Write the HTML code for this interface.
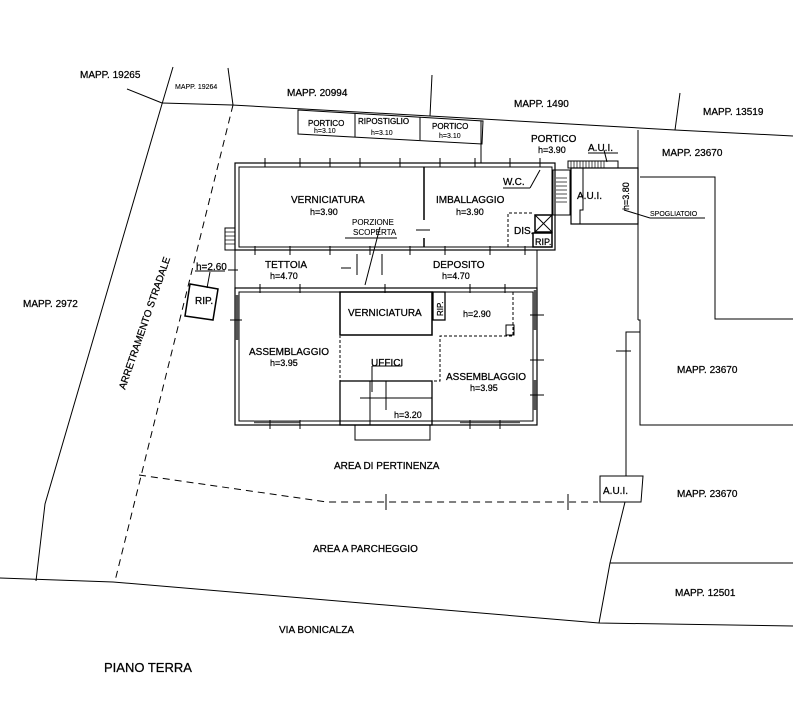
<!DOCTYPE html>
<html><head><meta charset="utf-8"><style>
html,body{margin:0;padding:0;background:#fff;}
svg{display:block;}
text{font-family:"Liberation Sans",Arial,sans-serif;fill:#000;stroke:#000;stroke-width:0.25;}
.t{font-size:10px;}
.s{font-size:7px;stroke-width:0.1;}
</style></head><body>
<svg width="793" height="705" viewBox="0 0 793 705" xmlns="http://www.w3.org/2000/svg">
<g fill="none" stroke="#000" stroke-width="1">
<polyline points="173,67 162,104 45,504 36,581"/>
<line x1="127" y1="89" x2="162" y2="103"/>
<polyline points="162,103 232,105 430,116 675,130 793,136"/>
<line x1="228" y1="68" x2="233" y2="105"/>
<line x1="432" y1="75" x2="430" y2="116"/>
<line x1="680" y1="93" x2="675" y2="130"/>
<line x1="233" y1="105" x2="115" y2="581" stroke-dasharray="7,5"/>
<polyline points="0,578 113,582 599,623 793,626"/>
<polyline points="139,475 327,502 598,502" stroke-dasharray="7,5"/>
<line x1="386" y1="494" x2="386" y2="510"/>
<line x1="568" y1="494" x2="568" y2="510"/>
<polygon points="600,476 643,476 641,502 600,502"/>
<polyline points="625,502 610,563 599,623"/>
<line x1="610" y1="563" x2="793" y2="563"/>
<line x1="638" y1="130" x2="638" y2="320"/>
<polyline points="638,320 640,320 640,425 793,425"/>
<polyline points="640,177 715,177 715,319 793,319"/>
<polyline points="640,332 626,332 626,476"/>
<line x1="616" y1="351" x2="631" y2="351"/>
<polygon points="298,110 483,121 482,144 298,134"/>
<line x1="355" y1="113" x2="355" y2="137"/>
<line x1="420" y1="117" x2="420" y2="140"/>
<line x1="481" y1="121" x2="481" y2="163"/>
<polygon points="190,284 218,289 213,320 185,316" stroke-width="1.5"/>
<line x1="195" y1="271" x2="225" y2="271"/>
<line x1="210" y1="272" x2="207" y2="288"/>
<rect x="235" y="163" width="320" height="87" stroke-width="1.2"/>
<rect x="239" y="167" width="313" height="80"/>
<line x1="424" y1="167" x2="424" y2="220" stroke-width="1.5"/>
<line x1="424" y1="238" x2="424" y2="247" stroke-width="1.5"/>
<line x1="416" y1="230" x2="430" y2="230"/>
<polyline points="508,247 508,213 533,213" stroke-dasharray="3,2"/>
<rect x="535" y="215" width="17" height="17" stroke-width="1.5"/>
<line x1="535" y1="215" x2="552" y2="232"/><line x1="552" y1="215" x2="535" y2="232"/>
<rect x="533" y="233" width="19" height="14" stroke-width="1.5"/>
<rect x="553" y="170" width="17" height="45"/>
<g stroke-width="0.7"><line x1="556" y1="178" x2="567" y2="178"/><line x1="556" y1="182" x2="567" y2="182"/><line x1="556" y1="186" x2="567" y2="186"/><line x1="556" y1="190" x2="567" y2="190"/><line x1="556" y1="194" x2="567" y2="194"/><line x1="556" y1="198" x2="567" y2="198"/><line x1="556" y1="202" x2="567" y2="202"/></g>
<rect x="571" y="168" width="67" height="56" stroke-width="1.2"/>
<rect x="568" y="161" width="50" height="7"/>
<g stroke-width="0.7"><line x1="571" y1="161" x2="571" y2="168"/><line x1="574" y1="161" x2="574" y2="168"/><line x1="577" y1="161" x2="577" y2="168"/><line x1="580" y1="161" x2="580" y2="168"/><line x1="583" y1="161" x2="583" y2="168"/><line x1="586" y1="161" x2="586" y2="168"/><line x1="589" y1="161" x2="589" y2="168"/><line x1="592" y1="161" x2="592" y2="168"/><line x1="595" y1="161" x2="595" y2="168"/><line x1="598" y1="161" x2="598" y2="168"/><line x1="601" y1="161" x2="601" y2="168"/><line x1="604" y1="161" x2="604" y2="168"/></g>
<polyline points="583,168 583,210 580,210 580,224"/>
<line x1="604" y1="150" x2="607" y2="162"/>
<line x1="624" y1="210" x2="650" y2="218"/>
<line x1="650" y1="218" x2="705" y2="218"/>
<line x1="540" y1="170" x2="530" y2="188"/>
<line x1="503" y1="188" x2="530" y2="188"/>
<rect x="225" y="228" width="10" height="22"/>
<g stroke-width="0.7"><line x1="225" y1="232" x2="235" y2="232"/><line x1="225" y1="236" x2="235" y2="236"/><line x1="225" y1="240" x2="235" y2="240"/><line x1="225" y1="244" x2="235" y2="244"/></g>
<line x1="235" y1="250" x2="235" y2="288"/>
<line x1="537" y1="250" x2="537" y2="288"/>
<line x1="357" y1="254" x2="357" y2="275"/>
<line x1="382" y1="254" x2="382" y2="275"/>
<line x1="341" y1="268" x2="351" y2="268"/>
<line x1="380" y1="227" x2="365" y2="285"/>
<line x1="345" y1="238" x2="397" y2="238"/>
<rect x="235" y="288" width="302" height="137" stroke-width="1.2"/>
<rect x="239" y="292" width="294" height="129"/>
<rect x="340" y="292" width="92" height="43" stroke-width="1.5"/>
<rect x="433" y="292" width="12" height="28" stroke-width="1.3"/>
<polyline points="513,292 513,336 440,336 440,381 340,381 340,336" stroke-dasharray="3,2"/>
<rect x="340" y="381" width="92" height="44" stroke-width="1.3"/>
<line x1="360" y1="398" x2="432" y2="398"/>
<line x1="370" y1="381" x2="370" y2="425"/>
<line x1="386" y1="381" x2="386" y2="410"/>
<rect x="355" y="425" width="75" height="15"/>
<line x1="372" y1="366" x2="372" y2="392"/>
<line x1="372" y1="366" x2="402" y2="366"/>
<rect x="506" y="325" width="8" height="10"/>
<line x1="254" y1="422" x2="300" y2="422" stroke-width="2.5" stroke="#555"/>
<line x1="460" y1="422" x2="520" y2="422" stroke-width="2.5" stroke="#555"/>
<line x1="237" y1="295" x2="237" y2="340" stroke-width="2.5" stroke="#555"/>
<line x1="535" y1="290" x2="535" y2="330" stroke-width="2.5" stroke="#555"/>
<line x1="535" y1="380" x2="535" y2="410" stroke-width="2.5" stroke="#555"/>
<g stroke-width="1">
<path d="M265 158v9M258 163h14M300 158v9M293 163h14M330 158v9M323 163h14M360 158v9M353 163h14M400 158v9M393 163h14M440 158v9M433 163h14M475 158v9M468 163h14M510 158v9M503 163h14M540 158v9M533 163h14"/>
<path d="M255 246v9M248 250h14M290 246v9M283 250h14M330 246v9M323 250h14M370 246v9M363 250h14M410 246v9M403 250h14M445 246v9M438 250h14M490 246v9M483 250h14M525 246v9"/>
<path d="M260 284v9M253 288h14M300 284v9M293 288h14M385 284v9M378 288h14M470 284v9M463 288h14M505 284v9"/>
<path d="M270 420v9M263 425h14M300 420v9M470 420v9M463 425h14M500 420v9M493 425h14"/>
<path d="M530 315h14M530 360h14M530 395h14M230 320h12M228 270h10"/>
</g>
</g>
<g class="t">
<text x="80" y="78">MAPP. 19265</text>
<text x="175" y="89" class="s">MAPP. 19264</text>
<text x="287" y="96">MAPP. 20994</text>
<text x="514" y="107">MAPP. 1490</text>
<text x="703" y="115">MAPP. 13519</text>
<text x="662" y="156">MAPP. 23670</text>
<text x="23" y="307">MAPP. 2972</text>
<text x="677" y="373">MAPP. 23670</text>
<text x="677" y="497">MAPP. 23670</text>
<text x="675" y="596">MAPP. 12501</text>
<text x="603" y="494">A.U.I.</text>
<text x="334" y="469">AREA DI PERTINENZA</text>
<text x="313" y="552">AREA A PARCHEGGIO</text>
<text x="279" y="633">VIA BONICALZA</text>
<text x="104" y="672" style="font-size:13px">PIANO TERRA</text>
<text transform="translate(125,390) rotate(-71)">ARRETRAMENTO STRADALE</text>
<text x="196" y="270">h=2.60</text>
<text x="195" y="304">RIP.</text>
<text x="308" y="126" style="font-size:8px">PORTICO</text>
<text x="314" y="133" class="s">h=3.10</text>
<text x="358" y="124" style="font-size:8px">RIPOSTIGLIO</text>
<text x="371" y="135" class="s">h=3.10</text>
<text x="432" y="129" style="font-size:8px">PORTICO</text>
<text x="439" y="138" class="s">h=3.10</text>
<text x="531" y="142">PORTICO</text>
<text x="538" y="153" style="font-size:9px">h=3.90</text>
<text x="588" y="151">A.U.I.</text>
<line x1="588" y1="153" x2="618" y2="153" stroke="#000"/>
<text x="577" y="199">A.U.I.</text>
<text transform="translate(629,210) rotate(-90)" style="font-size:9px">h=3.80</text>
<text x="650" y="216" class="s">SPOGLIATOIO</text>
<text x="503" y="185">W.C.</text>
<text x="291" y="203">VERNICIATURA</text>
<text x="310" y="215" style="font-size:9px">h=3.90</text>
<text x="436" y="203">IMBALLAGGIO</text>
<text x="456" y="215" style="font-size:9px">h=3.90</text>
<text x="352" y="225" style="font-size:8px;stroke-width:0.1">PORZIONE</text>
<text x="353" y="235" style="font-size:8px;stroke-width:0.1">SCOPERTA</text>
<text x="514" y="234">DIS.</text>
<text x="535" y="245" style="font-size:9px">RIP.</text>
<text x="265" y="268">TETTOIA</text>
<text x="270" y="279" style="font-size:9px">h=4.70</text>
<text x="433" y="268">DEPOSITO</text>
<text x="442" y="279" style="font-size:9px">h=4.70</text>
<text x="348" y="316">VERNICIATURA</text>
<text transform="translate(443,316) rotate(-90)" style="font-size:8px">RIP.</text>
<text x="463" y="317" style="font-size:9px">h=2.90</text>
<text x="249" y="355">ASSEMBLAGGIO</text>
<text x="270" y="366" style="font-size:9px">h=3.95</text>
<text x="371" y="366">UFFICI</text>
<text x="446" y="380">ASSEMBLAGGIO</text>
<text x="470" y="391" style="font-size:9px">h=3.95</text>
<text x="394" y="418" style="font-size:9px">h=3.20</text>
</g>
</svg>
</body></html>
